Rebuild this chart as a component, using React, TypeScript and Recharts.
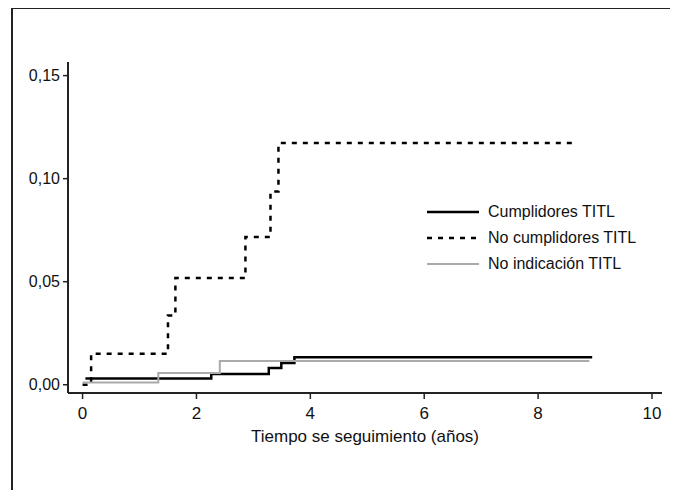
import { LineChart, XAxis, YAxis, Line, Legend } from 'recharts';

// tiempo (años) / incidencia acumulada
const cumplidoresT = [0.05, 2.26, 3.27, 3.49, 3.72, 8.95];
const cumplidoresV = [0.003, 0.0052, 0.0081, 0.0105, 0.0134, 0.0134];

const noCumplidoresT = [0, 0.15, 1.5, 1.63, 2.86, 3.3, 3.44, 8.67];
const noCumplidoresV = [0, 0.015, 0.0336, 0.0518, 0.0717, 0.0938, 0.1173, 0.1173];

const noIndicacionT = [0, 1.33, 2.41, 8.9];
const noIndicacionV = [0.0011, 0.0057, 0.0115, 0.0115];

const xTicks = [0, 2, 4, 6, 8, 10];
const yTicks = [0, 0.05, 0.1, 0.15];

const series = [
  { name: 'Cumplidores TITL', t: cumplidoresT, v: cumplidoresV, color: '#000', width: 2.5, dash: undefined },
  { name: 'No cumplidores TITL', t: noCumplidoresT, v: noCumplidoresV, color: '#000', width: 2.5, dash: '5 6' },
  { name: 'No indicación TITL', t: noIndicacionT, v: noIndicacionV, color: '#aaa', width: 2, dash: undefined },
];

const toRows = (t: number[], v: number[]) => t.map((x, i) => ({ t: x, v: v[i] }));

const font = 'Arial, "Liberation Sans", sans-serif';

function renderLegend() {
  return (
    <div style={{ fontFamily: font, fontSize: 16, color: '#111' }}>
      {series.map((s) => (
        <div key={s.name} style={{ display: 'flex', alignItems: 'center', height: 26 }}>
          <svg width={52} height={6} style={{ marginRight: 9 }}>
            <line x1={0} y1={3} x2={52} y2={3} stroke={s.color} strokeWidth={s.width} strokeDasharray={s.dash} />
          </svg>
          <span>{s.name}</span>
        </div>
      ))}
    </div>
  );
}

export default function App() {
  return (
    <div style={{ position: 'relative', width: 678, height: 490, margin: '-8px 0 0 -8px', overflow: 'hidden' }}>
      <div
        style={{
          position: 'absolute',
          left: 11,
          top: 7,
          width: 665,
          height: 520,
          border: '2.5px solid #222',
          boxSizing: 'border-box',
        }}
      />
      <div style={{ position: 'absolute', left: 0, top: 0 }}>
        <LineChart width={678} height={490} margin={{ top: 62, right: 16, bottom: 45, left: 8 }}>
          <XAxis
            type="number"
            dataKey="t"
            domain={[-0.256, 10.176]}
            ticks={xTicks}
            allowDataOverflow
            height={52}
            axisLine={{ stroke: '#222', strokeWidth: 2 }}
            tickLine={{ stroke: '#222', strokeWidth: 1.5 }}
            tickSize={6}
            tickMargin={8}
            tick={{ fill: '#111', fontSize: 17, fontFamily: font }}
            label={{
              value: 'Tiempo se seguimiento (años)',
              position: 'insideBottom',
              offset: 3,
              fill: '#111',
              fontSize: 17,
              fontFamily: font,
            }}
          />
          <YAxis
            type="number"
            domain={[-0.004, 0.1566]}
            ticks={yTicks}
            allowDataOverflow
            width={60}
            axisLine={{ stroke: '#222', strokeWidth: 2 }}
            tickLine={{ stroke: '#222', strokeWidth: 1.5 }}
            tickSize={5}
            tickMargin={3}
            tick={{ fill: '#111', fontSize: 16, fontFamily: font }}
            tickFormatter={(v: number) => v.toFixed(2).replace('.', ',')}
          />
          <Legend
            layout="vertical"
            align="center"
            verticalAlign="middle"
            content={renderLegend}
            wrapperStyle={{ position: 'absolute', left: 427, top: 199, width: 'auto', bottom: 'auto' }}
          />
          {series.map((s) => (
            <Line
              key={s.name}
              name={s.name}
              data={toRows(s.t, s.v)}
              dataKey="v"
              type="stepAfter"
              stroke={s.color}
              strokeWidth={s.width}
              strokeDasharray={s.dash}
              dot={false}
              activeDot={false}
              isAnimationActive={false}
            />
          ))}
        </LineChart>
      </div>
    </div>
  );
}
